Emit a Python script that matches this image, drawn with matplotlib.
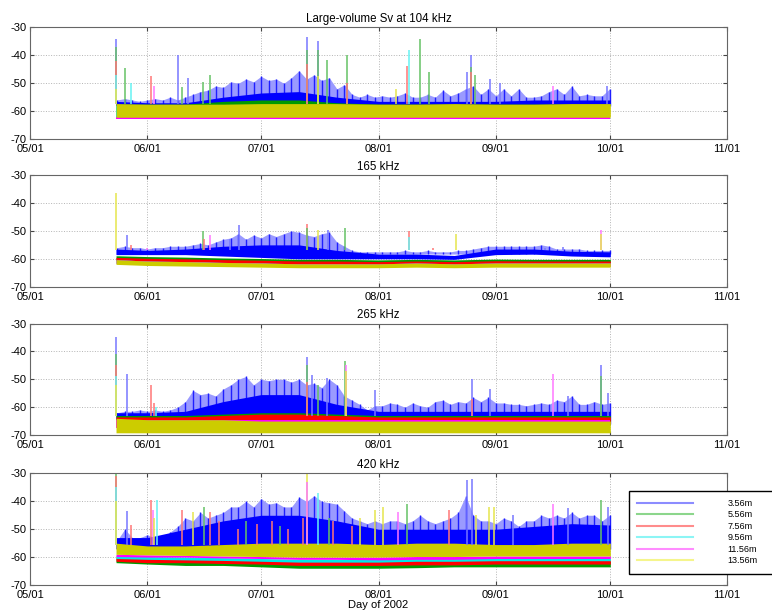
import matplotlib
matplotlib.use('Agg')
import matplotlib.pyplot as plt
import matplotlib.dates as mdates
from matplotlib.lines import Line2D
from datetime import datetime
import numpy as np

plt.rcParams['font.family'] = ['Liberation Sans', 'DejaVu Sans']
plt.rcParams['axes.unicode_minus'] = False

START = datetime(2002, 5, 1)
END = datetime(2002, 11, 1)

DEPTHS = ['3.56m', '5.56m', '7.56m', '9.56m', '11.56m', '13.56m']
KEYS = ['b', 'g', 'r', 'c', 'm', 'y']
TITLES = ['Large-volume Sv at 104 kHz', '165 kHz', '265 kHz', '420 kHz']

# days after 05/01 for the band levels (per depth) and the 3.56m peaks
BAND_DAYS = [22.7, 31, 41, 51, 61, 71, 81, 92, 102, 112, 123, 133, 143, 153.2]
PEAK_DAYS = list(range(23, 154, 2))

# ---------------- 104 kHz ----------------
SV104_LO = [
    [-58.0, -58.0, -58.0, -58.0, -58.0, -58.0, -58.0, -58.0, -58.0, -58.0, -58.0, -58.0, -58.0, -58.0],
    [-58.0, -58.0, -58.0, -58.0, -58.0, -58.0, -58.0, -58.0, -58.0, -58.0, -58.0, -58.0, -58.0, -58.0],
    [-63.0, -63.0, -63.0, -63.0, -63.0, -63.0, -63.0, -63.0, -63.0, -63.0, -63.0, -63.0, -63.0, -63.0],
    [-62.0, -62.0, -62.0, -62.0, -62.0, -62.0, -62.0, -62.0, -62.0, -62.0, -62.0, -62.0, -62.0, -62.0],
    [-62.8, -62.8, -62.8, -62.8, -62.8, -62.8, -62.8, -62.8, -62.8, -62.8, -62.8, -62.8, -62.8, -62.8],
    [-62.2, -62.2, -62.2, -62.2, -62.2, -62.2, -62.2, -62.2, -62.2, -62.2, -62.2, -62.2, -62.2, -62.2],
]
SV104_HI = [
    [-56.5, -57.0, -57.0, -55.0, -53.5, -53.0, -55.0, -56.5, -56.5, -56.5, -56.5, -56.0, -56.0, -56.0],
    [-57.5, -57.5, -57.5, -56.5, -56.0, -56.0, -57.0, -57.5, -57.5, -57.5, -57.5, -57.5, -57.5, -57.5],
    [-62.3, -62.3, -62.3, -62.3, -62.3, -62.3, -62.3, -62.3, -62.3, -62.3, -62.3, -62.3, -62.3, -62.3],
    [-58.0, -58.0, -58.0, -58.0, -58.0, -58.0, -58.0, -58.0, -58.0, -58.0, -58.0, -58.0, -58.0, -58.0],
    [-62.2, -62.2, -62.2, -62.2, -62.2, -62.2, -62.2, -62.2, -62.2, -62.2, -62.2, -62.2, -62.2, -62.2],
    [-57.3, -57.5, -57.5, -57.5, -57.3, -57.3, -57.3, -57.5, -57.5, -57.3, -57.5, -57.5, -57.3, -57.3],
]
SV104_PEAKS = [
    -56, -55.5, -56, -56.5, -56, -55.5, -56, -55, -56, -55,
    -54, -53, -52.5, -51, -51.5, -49.5, -50, -48.5, -49.5, -47.5,
    -49, -48.5, -50, -48, -45.5, -48.5, -47, -49, -48, -52,
    -50.5, -54, -55, -54, -55, -54.5, -55, -54.5, -53.5, -55,
    -55, -54, -55, -52.5, -54.5, -53.5, -52, -51, -54, -52,
    -54.5, -52, -54.5, -52, -55, -55, -54.5, -53, -52, -54,
    -51, -54.5, -54, -54.5, -54.5, -52,
]
SV104_SPIKES = [
    (22.7, -34.0, 'b'), (22.7, -37.0, 'g'), (22.7, -42.0, 'r'), (22.7, -47.0, 'c'), (22.7, -52.0, 'y'),
    (25.2, -44.5, 'g'), (26.6, -50.0, 'c'), (31.9, -47.5, 'r'), (32.7, -51.0, 'm'),
    (39.1, -40.0, 'b'), (40.2, -51.5, 'g'), (41.7, -48.0, 'b'), (45.7, -49.5, 'g'), (47.4, -47.0, 'g'),
    (73.0, -33.5, 'b'), (73.0, -38.0, 'g'), (73.0, -43.0, 'r'), (76.0, -35.0, 'b'), (76.0, -38.0, 'g'),
    (76.0, -47.5, 'y'), (78.4, -41.5, 'g'), (83.7, -40.0, 'g'), (83.7, -50.0, 'r'),
    (96.5, -52.0, 'y'), (99.4, -43.7, 'r'), (100.1, -38.0, 'c'), (102.9, -34.2, 'g'), (105.3, -46.0, 'g'),
    (115.3, -46.0, 'b'), (116.5, -40.0, 'b'), (116.5, -44.0, 'g'), (116.5, -46.0, 'r'), (117.5, -47.0, 'g'),
    (121.5, -48.5, 'b'), (124.0, -50.0, 'b'), (138.1, -51.0, 'm'), (152.4, -51.0, 'b'),
]

# ---------------- 165 kHz ----------------
SV165_LO = [
    [-58.5, -58.5, -58.5, -59.0, -59.5, -60.0, -60.0, -60.0, -60.0, -60.2, -58.5, -58.3, -59.0, -59.3],
    [-60.3, -60.6, -60.8, -61.1, -61.3, -61.6, -61.6, -61.8, -61.6, -61.8, -61.5, -61.6, -61.6, -61.6],
    [-60.6, -60.9, -61.1, -61.4, -61.6, -61.9, -61.9, -62.1, -61.9, -62.1, -61.8, -61.9, -61.9, -61.9],
    [-61.6, -62.0, -62.2, -62.4, -62.6, -62.8, -62.8, -62.8, -62.6, -62.8, -62.6, -62.6, -62.6, -62.6],
    [-61.6, -62.0, -62.2, -62.4, -62.6, -62.8, -62.8, -62.8, -62.6, -62.8, -62.6, -62.6, -62.6, -62.6],
    [-62.0, -62.4, -62.6, -62.8, -63.0, -63.2, -63.2, -63.2, -63.0, -63.2, -63.0, -63.0, -63.0, -63.0],
]
SV165_HI = [
    [-56.5, -57.0, -56.5, -55.5, -55.0, -55.0, -57.0, -58.3, -58.3, -58.8, -56.5, -56.5, -57.3, -57.5],
    [-58.9, -59.2, -59.4, -59.7, -59.9, -60.2, -60.2, -60.4, -60.2, -60.4, -60.1, -60.2, -60.2, -60.2],
    [-59.5, -59.8, -60.0, -60.3, -60.5, -60.8, -60.8, -61.0, -60.8, -61.0, -60.7, -60.8, -60.8, -60.8],
    [-60.3, -60.8, -61.0, -61.3, -61.5, -61.8, -61.8, -61.8, -61.5, -61.8, -61.5, -61.5, -61.5, -61.5],
    [-60.3, -60.8, -61.0, -61.3, -61.5, -61.8, -61.8, -61.8, -61.5, -61.8, -61.5, -61.5, -61.5, -61.5],
    [-60.3, -60.8, -61.0, -61.3, -61.5, -61.8, -61.8, -61.8, -61.5, -61.8, -61.5, -61.5, -61.5, -61.5],
]
SV165_PEAKS = [
    -56, -55.5, -56, -56, -56.5, -56, -56, -55.5, -55.5, -55.5,
    -55, -54.5, -55, -54, -53, -52.5, -51, -53, -51.5, -52.5,
    -51, -52, -51, -50, -50.5, -51.5, -52, -51, -50.5, -54,
    -55.5, -57, -57.5, -57.5, -57.5, -57.5, -57.5, -57.5, -57, -57.5,
    -57.5, -57, -57.5, -57.5, -57.5, -57, -57, -56.5, -56, -55.5,
    -55.5, -55.5, -55.5, -55.5, -55.5, -55.5, -55, -55.5, -56.5, -56.5,
    -56.5, -56.5, -57, -57, -57, -57,
]
SV165_SPIKES = [
    (22.7, -36.5, 'y'), (25.5, -51.5, 'b'), (26.6, -55.0, 'r'), (30.8, -56.0, 'm'),
    (45.7, -50.0, 'g'), (45.9, -53.0, 'r'), (47.4, -51.5, 'm'), (52.7, -53.0, 'b'), (55.3, -48.0, 'b'),
    (73.0, -47.5, 'r'), (73.2, -49.0, 'g'), (76.0, -49.5, 'y'), (78.6, -49.5, 'b'), (83.2, -49.0, 'g'),
    (100.1, -50.0, 'r'), (100.1, -52.0, 'c'), (106.5, -56.0, 'r'), (112.4, -51.0, 'y'),
    (136.0, -56.0, 'b'), (140.6, -55.8, 'b'), (150.7, -49.5, 'm'), (150.7, -51.0, 'y'),
]

# ---------------- 265 kHz ----------------
SV265_LO = [
    [-66.0, -66.0, -66.0, -66.0, -66.0, -66.0, -66.0, -66.0, -66.0, -66.0, -66.0, -66.0, -66.0, -66.0],
    [-66.5, -66.5, -66.5, -66.5, -66.5, -66.5, -66.5, -66.5, -66.5, -66.5, -66.5, -66.5, -66.5, -66.5],
    [-66.0, -66.0, -66.0, -66.0, -66.0, -66.0, -66.0, -66.0, -66.0, -66.0, -66.0, -66.0, -66.0, -66.0],
    [-67.0, -67.0, -67.0, -67.0, -67.0, -67.0, -67.0, -67.0, -67.0, -67.0, -67.0, -67.0, -67.0, -67.0],
    [-67.5, -67.5, -67.5, -67.5, -67.5, -67.5, -67.5, -67.5, -67.5, -67.5, -67.5, -67.5, -67.5, -67.5],
    [-69.2, -69.2, -69.2, -69.2, -69.2, -69.2, -69.2, -69.2, -69.2, -69.2, -69.2, -69.2, -69.2, -69.2],
]
SV265_HI = [
    [-62.0, -62.0, -61.5, -58.0, -55.5, -55.5, -59.0, -61.5, -61.5, -61.5, -61.5, -61.5, -61.5, -61.5],
    [-63.0, -63.0, -63.0, -62.5, -62.0, -62.0, -62.5, -63.0, -63.0, -63.0, -63.0, -63.0, -63.0, -63.0],
    [-63.5, -63.5, -63.5, -63.0, -62.5, -62.5, -63.0, -63.5, -63.5, -63.5, -63.5, -63.5, -63.5, -63.5],
    [-64.5, -64.5, -64.5, -64.5, -64.5, -64.5, -64.5, -64.5, -64.5, -64.5, -64.5, -64.5, -64.5, -64.5],
    [-64.5, -64.5, -64.5, -64.5, -64.5, -64.5, -64.5, -64.5, -64.5, -64.5, -64.5, -64.5, -64.5, -64.5],
    [-64.0, -64.5, -64.5, -64.5, -65.0, -65.0, -65.0, -65.0, -65.0, -65.0, -65.0, -65.0, -65.0, -65.0],
]
SV265_PEAKS = [
    -62, -61.5, -61.5, -61, -61.5, -61, -61.5, -61, -60, -58,
    -54, -55.5, -55, -56, -53.5, -52, -50, -49, -52, -50,
    -50.5, -50, -50, -51, -50, -52, -51.5, -53, -50, -52,
    -56, -57.5, -59, -61, -59.5, -59.5, -58.5, -59, -60, -58.5,
    -59.5, -60, -58, -57.5, -59, -58, -58.5, -56.5, -58, -56.5,
    -58.5, -58.5, -59, -59, -59.5, -59, -58.5, -59, -57.5, -58,
    -56, -59, -59, -58, -59, -58.5,
]
SV265_SPIKES = [
    (22.7, -35.0, 'b'), (22.7, -41.0, 'g'), (22.7, -45.0, 'r'), (22.7, -49.0, 'c'), (22.7, -52.0, 'y'),
    (25.5, -48.0, 'b'), (32.0, -52.0, 'r'), (32.8, -58.5, 'r'), (33.2, -60.0, 'c'),
    (73.0, -42.0, 'b'), (73.0, -45.0, 'g'), (73.0, -51.0, 'r'), (74.4, -48.5, 'b'), (76.0, -52.0, 'g'),
    (78.4, -49.5, 'b'), (83.2, -43.5, 'g'), (83.4, -45.0, 'm'), (83.4, -47.0, 'y'), (91.0, -54.0, 'b'),
    (116.6, -50.0, 'b'), (116.6, -57.0, 'r'), (121.5, -53.5, 'b'), (138.0, -48.0, 'm'), (142.0, -56.0, 'b'),
    (150.7, -45.0, 'b'), (150.8, -49.0, 'g'), (152.6, -55.0, 'b'),
]

# ---------------- 420 kHz ----------------
SV420_LO = [
    [-57.0, -57.0, -57.0, -57.0, -57.0, -57.0, -57.0, -57.0, -57.0, -57.0, -57.0, -57.0, -57.0, -57.0],
    [-62.0, -62.5, -63.0, -63.0, -63.5, -64.0, -64.0, -64.0, -63.8, -63.5, -63.5, -63.5, -63.5, -63.5],
    [-61.5, -62.0, -62.0, -62.3, -62.5, -63.0, -63.0, -63.0, -62.8, -62.8, -62.5, -62.5, -62.5, -62.5],
    [-60.5, -60.8, -61.0, -61.2, -61.5, -61.8, -61.8, -61.8, -61.5, -61.5, -61.3, -61.3, -61.3, -61.3],
    [-59.8, -60.0, -60.0, -60.3, -60.5, -60.8, -60.8, -61.0, -60.8, -60.8, -60.5, -60.5, -60.5, -60.5],
    [-59.0, -59.2, -59.4, -59.6, -59.8, -60.0, -60.0, -60.0, -59.8, -59.8, -59.6, -59.6, -59.6, -59.6],
]
SV420_HI = [
    [-53.0, -53.0, -50.0, -47.0, -45.0, -45.0, -47.0, -50.0, -50.0, -50.0, -50.0, -49.0, -48.0, -48.5],
    [-60.5, -61.0, -61.0, -61.0, -61.5, -61.5, -61.5, -61.5, -61.5, -61.5, -61.5, -61.5, -61.5, -61.5],
    [-60.0, -60.5, -60.5, -60.8, -61.0, -61.3, -61.3, -61.3, -61.0, -61.0, -61.0, -61.0, -61.0, -61.0],
    [-59.5, -59.8, -60.0, -60.2, -60.5, -60.8, -60.8, -60.8, -60.5, -60.5, -60.3, -60.3, -60.3, -60.3],
    [-59.0, -59.2, -59.4, -59.6, -59.8, -60.0, -60.0, -60.0, -59.8, -59.8, -59.6, -59.6, -59.6, -59.6],
    [-55.0, -56.0, -56.0, -55.5, -55.0, -55.0, -55.0, -55.5, -55.0, -55.0, -55.5, -55.5, -55.0, -55.0],
]
SV420_PEAKS = [
    -54, -50, -53, -53, -52, -53, -53.5, -51, -49, -46,
    -47, -44, -46, -45, -44, -42, -42, -40, -42, -39,
    -41, -40.5, -42, -42, -38.5, -40, -38, -40, -40.5, -41,
    -43.5, -46, -47, -48, -47, -48, -47, -47, -48, -47,
    -45, -47, -48, -47, -46, -44, -38, -45, -47, -47,
    -48, -46, -47, -49, -47, -47, -45, -46, -45, -46,
    -44, -46, -45, -45, -47, -45,
]
SV420_SPIKES = [
    (22.7, -30.0, 'g'), (22.7, -31.0, 'r'), (22.7, -35.0, 'c'), (22.7, -40.0, 'y'),
    (25.5, -43.5, 'b'), (26.6, -48.5, 'r'), (31.9, -39.5, 'r'), (32.5, -43.0, 'm'), (32.8, -46.0, 'y'),
    (33.4, -39.5, 'c'), (40.0, -43.0, 'r'), (43.0, -44.0, 'y'), (46.0, -42.0, 'g'), (47.5, -44.0, 'r'),
    (50.0, -47.0, 'r'), (55.0, -50.0, 'r'), (57.0, -47.0, 'g'), (60.0, -48.0, 'r'), (64.0, -47.0, 'r'),
    (66.0, -49.0, 'g'), (68.0, -50.0, 'r'), (72.0, -46.0, 'r'),
    (73.0, -30.0, 'y'), (73.0, -33.0, 'm'), (76.0, -37.0, 'c'), (79.0, -46.0, 'g'), (80.0, -47.0, 'r'),
    (85.0, -49.0, 'r'), (87.0, -46.0, 'y'), (91.0, -43.0, 'y'), (93.2, -42.0, 'y'), (97.2, -44.0, 'm'),
    (99.6, -41.0, 'g'), (110.7, -43.0, 'r'), (115.3, -32.2, 'b'), (116.6, -32.0, 'b'), (117.8, -45.0, 'y'),
    (121.3, -42.0, 'y'), (122.6, -42.0, 'y'), (127.5, -45.0, 'b'), (138.0, -41.0, 'm'), (142.0, -42.5, 'b'),
    (150.7, -39.5, 'g'), (152.6, -42.0, 'b'),
]

SOLID = {'b': '#0000ff', 'g': '#009a00', 'r': '#ff0000', 'c': '#00e8e8', 'm': '#ff00ff', 'y': '#cccc00'}
PALE = {'b': '#7777ff', 'g': '#66c266', 'r': '#ff7777', 'c': '#66f2f2', 'm': '#ff77ff', 'y': '#e6e64d'}
LEGEND = {'b': '#8c8cff', 'g': '#8cd68c', 'r': '#ff8c8c', 'c': '#8cf5f5', 'm': '#ff8cff', 'y': '#f5f58c'}

panels = [
    (SV104_LO, SV104_HI, SV104_PEAKS, SV104_SPIKES, -57.5),
    (SV165_LO, SV165_HI, SV165_PEAKS, SV165_SPIKES, -57.0),
    (SV265_LO, SV265_HI, SV265_PEAKS, SV265_SPIKES, -63.0),
    (SV420_LO, SV420_HI, SV420_PEAKS, SV420_SPIKES, -55.5),
]
bottoms = [0.7725, 0.5308, 0.288, 0.0426]

fig = plt.figure(figsize=(7.72, 6.11), dpi=100)
d0 = mdates.date2num(START)
band_x = d0 + np.array(BAND_DAYS)
peak_x = d0 + np.array(PEAK_DAYS)

for k, (lo, hi, peaks, spikes, base) in enumerate(panels):
    ax = fig.add_axes([0.0389, bottoms[k], 0.9028, 0.1825])

    # 3.56m bursts: light envelope with dense strokes, then the depth bands
    floor = max(lo[0])
    ax.fill_between(peak_x, floor, peaks, color='#9a9aff', lw=0, zorder=1.0)
    ax.vlines(peak_x, floor, peaks, color='#1f1fff', lw=1.0, zorder=1.05)
    for i, key in enumerate(KEYS):
        ax.fill_between(band_x, lo[i], hi[i], color=SOLID[key], lw=0,
                        zorder=1.1 + 0.01 * i)

    # isolated spikes
    for day, top, key in spikes:
        ax.vlines(d0 + day, base, top, color=PALE[key], lw=1.1, zorder=1.5)

    ax.set_xlim(START, END)
    ax.set_ylim(-70, -30)
    ax.set_yticks([-70, -60, -50, -40, -30])
    ax.xaxis.set_major_locator(mdates.MonthLocator())
    ax.xaxis.set_major_formatter(mdates.DateFormatter('%m/%d'))
    ax.grid(True, linestyle=':', color='#b4b4b4', linewidth=0.7)
    ax.set_axisbelow(True)
    ax.tick_params(direction='in', length=3, top=True, right=True,
                   labelsize=8, color='#444444')
    ax.tick_params(axis='x', pad=3.5)
    ax.tick_params(axis='y', pad=2.5)
    for spine in ax.spines.values():
        spine.set_color('#666666')
        spine.set_linewidth(0.8)
    ax.set_title(TITLES[k], fontsize=8.3, pad=4)

ax.set_xlabel('Day of 2002', fontsize=8, labelpad=0.0)

handles = [Line2D([], [], color=LEGEND[key], lw=1.5) for key in KEYS]
fig.legend(handles, DEPTHS, loc='upper left',
           bbox_to_anchor=(0.8148, 0.0, 0.23, 0.1969), mode='expand',
           borderaxespad=0.0,
           fontsize=6.5, handlelength=6.2, handletextpad=3.8, borderpad=0.9,
           labelspacing=0.28, fancybox=False, framealpha=1, edgecolor='black')

fig.savefig('out.png', dpi=100)
